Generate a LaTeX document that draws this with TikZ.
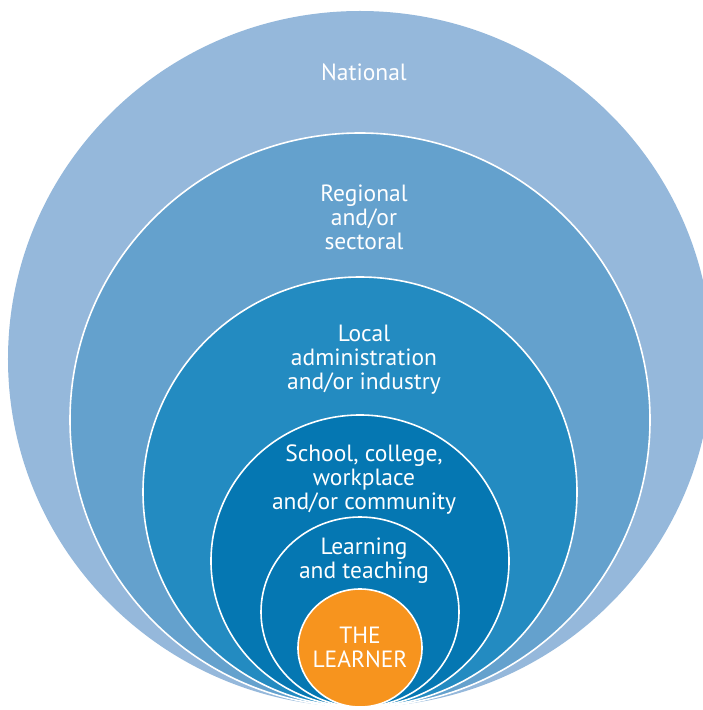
\documentclass[tikz,border=0pt]{standalone}
\usepackage{fontspec}
\setmainfont{PT Sans}
\usepackage{xcolor}
\usetikzlibrary{positioning, shapes.geometric}
\definecolor{natBlue}{HTML}{95B8DB}
\definecolor{regBlue}{HTML}{64A1CD}
\definecolor{locBlue}{HTML}{238BC1}
\definecolor{schBlue}{HTML}{0577B2}
\definecolor{lrnOrange}{HTML}{F7941E}
\tikzset{
    ring/.style={ellipse, draw=white, line width=1.6bp, inner sep=0pt, outer sep=0pt},
    lbl/.style={align=center, text=white, inner sep=0pt, xshift=4bp,
        font=\fontsize{23.5bp}{24bp}\selectfont}
}
\begin{document}
\begin{tikzpicture}[x=1bp, y=-1bp]
        \useasboundingbox (0,0) rectangle (703,710);
        \clip (0,0) rectangle (703,710);

        % Rings
        \node[ring, draw=none, fill=natBlue, minimum width=704bp, minimum height=696bp] (national) at (360,359) {};
        \node[ring, fill=regBlue, minimum width=580bp, minimum height=574bp] (regional) at (360,420) {};
        \node[ring, fill=locBlue, minimum width=434bp, minimum height=430bp] (local) at (360,492) {};
        \node[ring, fill=schBlue, minimum width=298bp, minimum height=292bp] (school) at (360,561) {};
        \node[ring, fill=schBlue, minimum width=198bp, minimum height=190bp] (teach) at (360,612) {};
        \node[ring, fill=lrnOrange, minimum width=124bp, minimum height=118bp] (learner) at (360,648) {};

        % Labels
        \node[lbl, below=61bp of national.north, anchor=center] (natText) {National};
        \node[lbl, below=84bp of regional.north, anchor=center] (regText) {Regional\\and/or\\sectoral};
        \node[lbl, below=83bp of local.north, anchor=center] (locText) {Local\\administration\\and/or industry};
        \node[lbl, below=65bp of school.north, anchor=center] (schText) {School, college,\\workplace\\and/or community};
        \node[lbl, below=44bp of teach.north, anchor=center] (teachText) {Learning\\and teaching};
        \node[lbl, xshift=-4bp, above=1bp of learner.center, anchor=center] (lrnText) {THE\\LEARNER};

    \end{tikzpicture}
\end{document}
